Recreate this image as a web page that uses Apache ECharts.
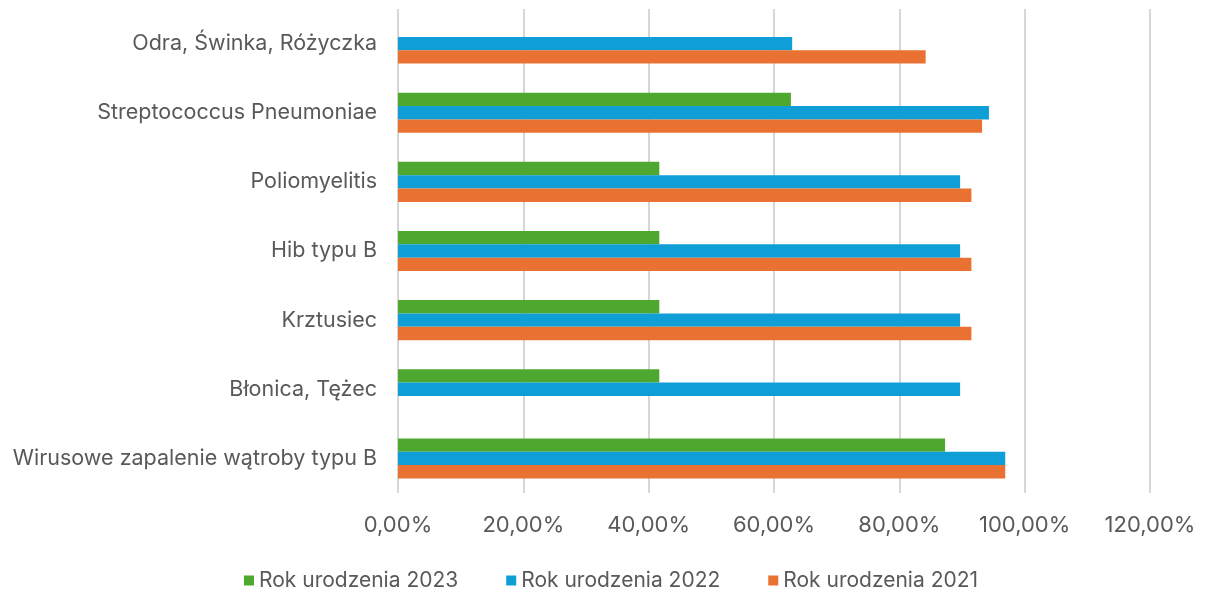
<!DOCTYPE html>
<html>
<head>
<meta charset="utf-8">
<script src="https://cdn.jsdelivr.net/npm/echarts@6/dist/echarts.min.js"></script>
<style>
  html, body { margin: 0; padding: 0; background: #fff; }
  #chart { width: 1206px; height: 592px; }
</style>
</head>
<body>
<div id="chart"></div>
<script>
// kategorie od dołu do góry (jak na osi)
var categories = [
  "Wirusowe zapalenie wątroby typu B",
  "Błonica, Tężec",
  "Krztusiec",
  "Hib typu B",
  "Poliomyelitis",
  "Streptococcus Pneumoniae",
  "Odra, Świnka, Różyczka"
];
var seriesNames = ["Rok urodzenia 2023", "Rok urodzenia 2022", "Rok urodzenia 2021"];
var rok2023 = [0.873, 0.417, 0.417, 0.417, 0.417, 0.627, null];
var rok2022 = [0.969, 0.897, 0.897, 0.897, 0.897, 0.943, 0.629];
var rok2021 = [0.969, null, 0.915, 0.915, 0.915, 0.932, 0.842];
var xTicks = [0, 0.2, 0.4, 0.6, 0.8, 1.0, 1.2];

var colors = ["#4ea72e", "#0f9ed5", "#e97132"];
var font = "Inter";

var chart = echarts.init(document.getElementById("chart"));

var series = [rok2023, rok2022, rok2021].map(function (d, i) {
  return {
    type: "bar",
    name: seriesNames[i],
    data: d,
    barGap: "0%",
    barCategoryGap: "42%",
    itemStyle: { color: colors[i] }
  };
});

var option = {
  animation: false,
  textStyle: { fontFamily: font },
  grid: { left: 398, right: 56, top: 9, bottom: 99 },
  legend: {
    data: seriesNames,
    top: 565,
    left: 239,
    icon: "rect",
    itemWidth: 10,
    itemHeight: 10,
    itemGap: 48,
    textStyle: { color: "#595959", fontSize: 21, fontFamily: font }
  },
  xAxis: {
    type: "value",
    min: xTicks[0],
    max: xTicks[xTicks.length - 1],
    interval: 0.2,
    axisLine: { show: false },
    axisTick: { show: false },
    axisLabel: {
      color: "#595959",
      fontSize: 22,
      margin: 21,
      formatter: function (v) {
        return (v * 100).toFixed(2).replace(".", ",") + "%";
      }
    },
    splitLine: {
      lineStyle: { color: "#d6d6d6", width: 2, type: "solid" }
    }
  },
  yAxis: {
    type: "category",
    data: categories,
    axisLine: { show: false },
    axisTick: { show: false },
    axisLabel: { color: "#595959", fontSize: 21.5, margin: 21 }
  },
  series: series
};

chart.setOption(option);
</script>
</body>
</html>
